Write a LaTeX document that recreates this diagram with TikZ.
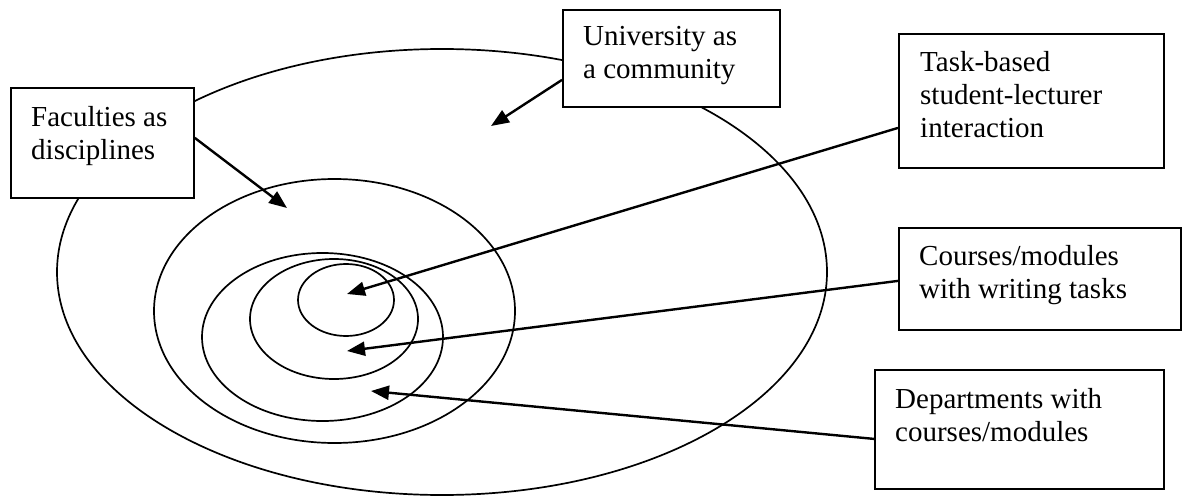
\documentclass[tikz,border=0pt]{standalone}
\usepackage{fontspec}
\setmainfont{Liberation Serif}
\usetikzlibrary{arrows.meta,calc}
\begin{document}
\begin{tikzpicture}[x=1pt,y=-1pt,
  ring/.style={draw=black,line width=1.7pt},
  labelbox/.style={draw=black,fill=white,line width=1.8pt,anchor=north west,inner sep=0pt},
  labeltext/.style={anchor=north west,inner sep=0pt,align=left,font=\fontsize{29}{33}\selectfont},
  pointer/.style={draw=black,line width=2.4pt,-{Triangle[length=18pt,width=14pt]}}]
\useasboundingbox[fill=white] (0,0) rectangle (1182,497);

% nested ellipses
\draw[ring] (442,272) ellipse [x radius=385, y radius=223];
\draw[ring] (334.5,311) ellipse [x radius=180.5, y radius=132];
\draw[ring] (322.5,337) ellipse [x radius=120.5, y radius=84];
\draw[ring] (334,319) ellipse [x radius=84, y radius=60];
\draw[ring] (346,300) ellipse [x radius=48, y radius=36];

% boxes
\node[labelbox,minimum width=183pt,minimum height=110pt] (fac) at (10,87) {};
\node[labeltext] (facT) at (31,106) {Faculties as\\disciplines};

\node[labelbox,minimum width=217pt,minimum height=97pt] (uni) at (562,9) {};
\node[labeltext] (uniT) at (583,26) {University as\\a community};

\node[labelbox,minimum width=265pt,minimum height=134pt] (task) at (898,33) {};
\node[labeltext] (taskT) at (920,51) {Task-based\\student-lecturer\\interaction};

\node[labelbox,minimum width=282pt,minimum height=102pt] (cour) at (898,227) {};
\node[labeltext] (courT) at (919,245) {Courses/modules\\with writing tasks};

\node[labelbox,minimum width=289pt,minimum height=119pt] (dept) at (874,369) {};
\node[labeltext] (deptT) at (895,388) {Departments with\\courses/modules};

% arrow targets
\coordinate (tfac) at (287,208);
\coordinate (tuni) at (491,126);
\coordinate (ttask) at (347,294);
\coordinate (tcour) at (347,351);
\coordinate (tdept) at (371,391);

% arrows
\draw[pointer] ($(fac.east)+(0,-5)$) -- (tfac);
\draw[pointer] ($(uni.west)+(0,21.5)$) -- (tuni);
\draw[pointer] ($(task.west)+(0,27)$) -- (ttask);
\draw[pointer] ($(cour.west)+(0,2)$) -- (tcour);
\draw[pointer] ($(dept.west)+(0,9.5)$) -- (tdept);
\end{tikzpicture}
\end{document}
